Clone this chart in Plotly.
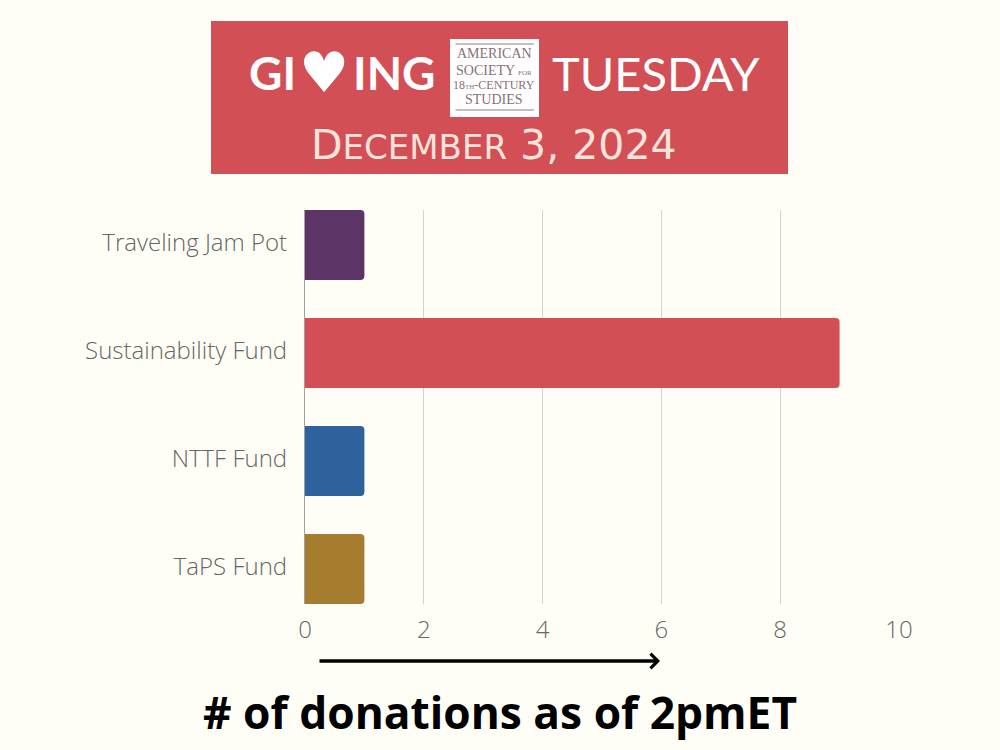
import plotly.graph_objects as go

funds = ["Traveling Jam Pot", "Sustainability Fund", "NTTF Fund", "TaPS Fund"]
donations = [1, 9, 1, 1]
bar_colors = ["#5c3566", "#d14f55", "#2f619c", "#a67c2e"]
tick_vals = [0, 2, 4, 6, 8, 10]
crest_lines = ["AMERICAN", "SOCIETY <span style='font-size:7px'>FOR</span>",
               "18<span style='font-size:7px'>TH</span>-CENTURY", "STUDIES"]
crest_y = [54, 70, 85, 99]
crest_size = [14, 14, 12, 14]

BG = "#fefef6"
RED = "#d14f55"


def label(text, px, py, size, color, family, weight=400):
    # position in page pixels
    return dict(text=text, x=px / 1000, y=1 - py / 750, xref="paper", yref="paper",
                xanchor="center", yanchor="middle", showarrow=False,
                font=dict(family=family, size=size, color=color, weight=weight))


fig = go.Figure(go.Bar(
    y=funds,
    x=donations,
    orientation="h",
    width=0.648,
    marker=dict(color=bar_colors, cornerradius=4, line_width=0),
))

fig.update_layout(
    width=1000,
    height=750,
    autosize=False,
    margin=dict(l=0, r=0, t=0, b=0),
    paper_bgcolor=BG,
    plot_bgcolor=BG,
    font=dict(family="Open Sans", color="#666666", size=24, weight=300),
    showlegend=False,
    xaxis=dict(
        domain=[0.305, 0.899],
        range=[0, 10],
        automargin=False,
        tickvals=tick_vals,
        showgrid=True,
        gridcolor="#d3d3cd",
        gridwidth=1.2,
        zeroline=False,
        ticks="outside",
        ticklen=4,
        tickcolor="rgba(0,0,0,0)",
    ),
    yaxis=dict(
        domain=[1 - 604 / 750, 1 - 210 / 750],
        range=[3.324, -0.324],
        automargin=False,
        showline=True,
        linecolor="#a0a0a0",
        linewidth=1.2,
        showgrid=False,
        ticks="outside",
        ticklen=12,
        tickcolor="rgba(0,0,0,0)",
        ticklabelshift=2,
    ),
    # header banner
    shapes=[
        dict(type="rect", xref="paper", yref="paper", x0=0.211, x1=0.788, y0=1 - 0.232, y1=1 - 0.028,
             fillcolor=RED, line_width=0, layer="below"),
        dict(type="rect", xref="paper", yref="paper", x0=0.450, x1=0.539, y0=1 - 117 / 750, y1=1 - 39 / 750,
             fillcolor="#ffffff", line_width=0),
        dict(type="line", xref="paper", yref="paper", x0=0.4555, x1=0.534, y0=1 - 44 / 750, y1=1 - 44 / 750,
             line=dict(color="#8c7f88", width=1)),
        dict(type="line", xref="paper", yref="paper", x0=0.4555, x1=0.534, y0=1 - 110 / 750, y1=1 - 110 / 750,
             line=dict(color="#8c7f88", width=1)),
    ],
    annotations=[
        label("GI", 272, 73, 46, "#ffffff", "Lato", 700),
        label("&#9829;", 324, 73, 56, "#ffffff", "DejaVu Sans"),
        label("ING", 394, 73, 46, "#ffffff", "Lato", 700),
        label("TUESDAY", 656, 73, 47, "#ffffff", "Lato"),
        label("D<span style='font-size:34px'>ECEMBER</span> 3, 2024", 494, 145, 41, "#f6e3dc", "DejaVu Sans"),
        label("# of donations as of 2pmET", 500, 712, 44.3, "#000000", "Open Sans", 700),
        dict(x=0.66, y=1 - 661 / 750, ax=-342, ay=0, xref="paper", yref="paper", axref="pixel",
             ayref="pixel", text="", showarrow=True, arrowhead=4, arrowsize=0.8, arrowwidth=3.5,
             arrowcolor="#000000"),
    ] + [label(t, 494, py, s, "#8a7078", "Liberation Serif") for t, py, s in zip(crest_lines, crest_y, crest_size)],
)

fig.write_html("out.html", config=dict(displayModeBar=False),
               post_script="document.body.style.margin='0';document.body.style.overflow='hidden';")
